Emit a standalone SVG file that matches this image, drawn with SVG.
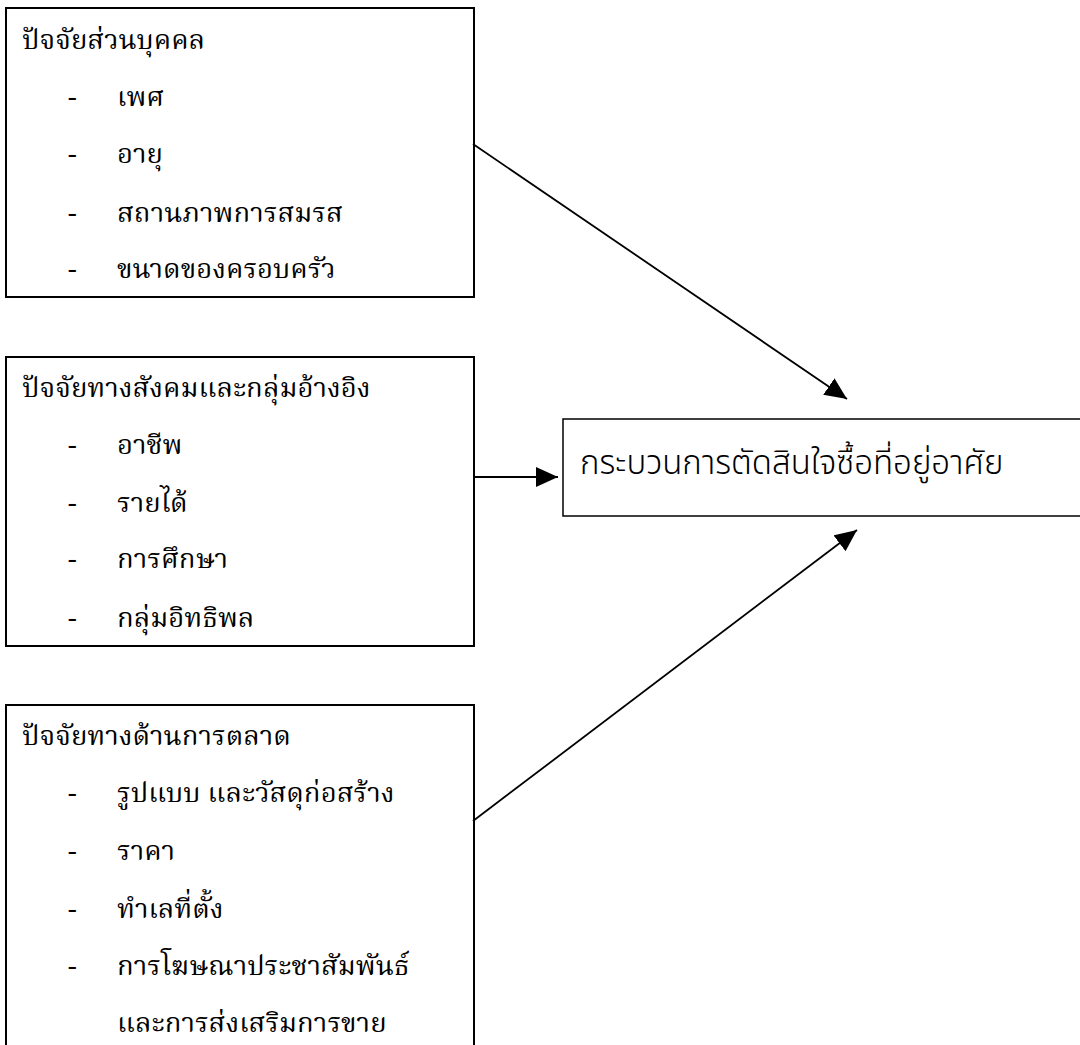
<svg xmlns="http://www.w3.org/2000/svg" width="1080" height="1045" viewBox="0 0 1080 1045">
<defs>
<style>
.box{fill:#fff;stroke:#000;stroke-width:2}
.cbox{fill:#fff;stroke:#000;stroke-width:1.5}
.t{font-family:"Noto Serif Thai","Liberation Serif",serif;font-size:27.5px;fill:#000}
.c{font-family:"Noto Sans Thai","Noto Sans",sans-serif;font-size:33px;font-weight:300;fill:#000}
.ln{stroke:#000;stroke-width:1.8;fill:none}
</style>
<marker id="ah" viewBox="0 0 10 10" refX="10" refY="5" markerWidth="22" markerHeight="20" markerUnits="userSpaceOnUse" orient="auto" preserveAspectRatio="none">
<path d="M0,0 L10,5 L0,10 Z" fill="#000"/>
</marker>
</defs>
<rect width="1080" height="1045" fill="#fff"/>
<g id="n1">
<rect class="box" x="6" y="8" width="468" height="289"/>
<text class="t" x="22" y="49">ปัจจัยส่วนบุคคล</text>
<text class="t" x="68" y="106">-</text><text class="t" x="117" y="106">เพศ</text>
<text class="t" x="68" y="163">-</text><text class="t" x="117" y="163">อายุ</text>
<text class="t" x="68" y="222">-</text><text class="t" x="117" y="222">สถานภาพการสมรส</text>
<text class="t" x="68" y="278">-</text><text class="t" x="117" y="278">ขนาดของครอบครัว</text>
</g>
<g id="n2">
<rect class="box" x="6" y="357" width="468" height="289"/>
<text class="t" x="22" y="397">ปัจจัยทางสังคมและกลุ่มอ้างอิง</text>
<text class="t" x="68" y="454">-</text><text class="t" x="117" y="454">อาชีพ</text>
<text class="t" x="68" y="512">-</text><text class="t" x="117" y="512">รายได้</text>
<text class="t" x="68" y="568">-</text><text class="t" x="117" y="568">การศึกษา</text>
<text class="t" x="68" y="627">-</text><text class="t" x="117" y="627">กลุ่มอิทธิพล</text>
</g>
<g id="n3">
<rect class="box" x="6" y="705" width="468" height="360"/>
<text class="t" x="22" y="745">ปัจจัยทางด้านการตลาด</text>
<text class="t" x="68" y="802">-</text><text class="t" x="117" y="802">รูปแบบ และวัสดุก่อสร้าง</text>
<text class="t" x="68" y="860">-</text><text class="t" x="117" y="860">ราคา</text>
<text class="t" x="68" y="918">-</text><text class="t" x="117" y="918">ทำเลที่ตั้ง</text>
<text class="t" x="68" y="975">-</text><text class="t" x="117" y="975">การโฆษณาประชาสัมพันธ์</text>
<text class="t" x="117" y="1032">และการส่งเสริมการขาย</text>
</g>
<g id="n4">
<rect class="cbox" x="563" y="419" width="530" height="97"/>
<text class="c" x="580" y="474">กระบวนการตัดสินใจซื้อที่อยู่อาศัย</text>
</g>
<g id="connectors">
<line class="ln" x1="473" y1="144" x2="847" y2="399" marker-end="url(#ah)"/>
<line class="ln" x1="473" y1="477" x2="558" y2="477" marker-end="url(#ah)"/>
<line class="ln" x1="473" y1="821" x2="857" y2="530" marker-end="url(#ah)"/>
</g>
</svg>
